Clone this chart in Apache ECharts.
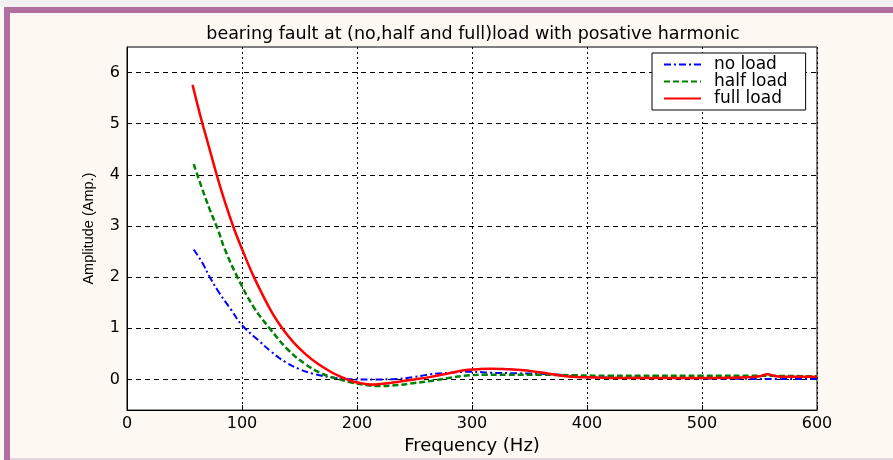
<!DOCTYPE html>
<html>
<head>
<meta charset="utf-8">
<script src="https://cdn.jsdelivr.net/npm/echarts@6/dist/echarts.min.js"></script>
<style>
html,body{margin:0;padding:0;background:#fdf8f1;}
#chart{width:893px;height:460px;}
</style>
</head>
<body>
<div id="chart"></div>
<script>
var titleText = 'bearing fault at (no,half and full)load with posative harmonic';
var xAxisName = 'Frequency (Hz)';
var yAxisName = 'Amplitude (Amp.)';
var seriesNames = ['no load', 'half load', 'full load'];
var yTickValues = [0, 1, 2, 3, 4, 5, 6];

var noLoadX = [58, 65, 72, 80, 90, 100, 115, 125, 137, 150, 162, 175, 190, 200, 215, 235, 250, 264, 281, 299, 316, 340, 370, 390, 410, 450, 500, 550, 600];
var noLoadY = [2.54, 2.3, 2.0, 1.7, 1.38, 1.06, 0.75, 0.55, 0.35, 0.2, 0.11, 0.05, 0.01, 0.0, 0.0, 0.01, 0.05, 0.1, 0.13, 0.15, 0.13, 0.12, 0.1, 0.06, 0.04, 0.03, 0.02, 0.01, 0.01];

var halfLoadX = [58, 65, 72, 79, 85, 96, 110, 124, 140, 155, 168, 177, 185, 195, 208, 220, 235, 250, 264, 280, 293, 310, 330, 360, 390, 420, 460, 500, 550, 600];
var halfLoadY = [4.21, 3.75, 3.32, 2.93, 2.55, 2.0, 1.42, 1.0, 0.58, 0.3, 0.13, 0.05, 0.0, -0.06, -0.11, -0.13, -0.11, -0.07, -0.03, 0.03, 0.07, 0.09, 0.09, 0.09, 0.08, 0.07, 0.07, 0.07, 0.07, 0.06];

var fullLoadX = [57, 65, 70, 78, 85, 93, 100, 110, 125, 135, 145, 155, 165, 177, 185, 195, 205, 212, 220, 235, 250, 264, 280, 293, 305, 316, 330, 345, 355, 365, 375, 386, 400, 420, 450, 480, 510, 540, 550, 557, 563, 570, 600];
var fullLoadY = [5.76, 5.05, 4.65, 4.0, 3.48, 2.95, 2.55, 2.02, 1.35, 1.0, 0.72, 0.5, 0.32, 0.15, 0.06, -0.03, -0.08, -0.1, -0.09, -0.05, 0.0, 0.05, 0.12, 0.18, 0.2, 0.21, 0.2, 0.18, 0.15, 0.12, 0.08, 0.05, 0.04, 0.03, 0.03, 0.03, 0.03, 0.04, 0.06, 0.1, 0.07, 0.05, 0.05];

function zip(xs, ys) { return xs.map(function (x, i) { return [x, ys[i]]; }); }

var chart = echarts.init(document.getElementById('chart'), null, {renderer: 'canvas'});
var hFont = 'DejaVu Sans';
chart.setOption({
  backgroundColor: '#fdf8f1',
  animation: false,
  graphic: [
    {type: 'rect', shape: {x: 0, y: 0, width: 893, height: 7}, style: {fill: '#f2f0f1'}, silent: true, z: -1},
    {type: 'rect', shape: {x: 4, y: 7, width: 889, height: 6}, style: {fill: '#b06f9f'}, silent: true, z: -1},
    {type: 'rect', shape: {x: 4, y: 7, width: 6, height: 453}, style: {fill: '#b06f9f'}, silent: true, z: -1},
    {type: 'rect', shape: {x: 10, y: 458, width: 883, height: 2}, style: {fill: '#e3d6e0'}, silent: true, z: -1}
  ],
  title: {
    text: titleText,
    left: 468,
    top: 20,
    textAlign: 'center',
    textStyle: {fontFamily: hFont, fontSize: 17.5, fontWeight: 'normal', color: '#000'}
  },
  legend: {
    orient: 'vertical',
    left: 652,
    top: 53,
    padding: [3, 18, 3, 11],
    itemGap: 0,
    itemWidth: 37,
    itemHeight: 14,
    backgroundColor: '#ffffff',
    borderColor: '#000',
    borderWidth: 1,
    borderRadius: 0,
    itemStyle: {opacity: 0},
    data: seriesNames,
    textStyle: {fontFamily: hFont, fontSize: 17, color: '#000', lineHeight: 17, padding: [0, 0, 0, 8]}
  },
  grid: {
    left: 127, top: 47, width: 690, height: 364,
    show: true, backgroundColor: '#ffffff', borderColor: '#000', borderWidth: 1
  },
  xAxis: {
    type: 'value',
    min: 0, max: 600, interval: 100,
    name: xAxisName,
    nameLocation: 'middle',
    nameGap: 16,
    nameTextStyle: {fontFamily: hFont, fontSize: 18, color: '#000'},
    axisLine: {show: true, onZero: false, lineStyle: {color: '#000', width: 1}},
    axisTick: {show: true, inside: true, length: 5, lineStyle: {color: '#000'}},
    axisLabel: {fontFamily: hFont, fontSize: 16, color: '#000', margin: 6},
    splitLine: {show: true, lineStyle: {color: '#000', type: [2, 3], width: 1}}
  },
  yAxis: {
    type: 'value',
    min: -0.6, max: 6.5,
    name: yAxisName,
    nameLocation: 'middle',
    nameGap: 31,
    nameRotate: 90,
    nameTextStyle: {fontFamily: 'Liberation Sans', fontSize: 14.5, color: '#000'},
    axisLine: {show: true, lineStyle: {color: '#000', width: 1}},
    axisTick: {show: true, inside: true, length: 5, lineStyle: {color: '#000'}, customValues: yTickValues},
    axisLabel: {fontFamily: hFont, fontSize: 16, color: '#000', margin: 7, customValues: yTickValues},
    splitLine: {show: true, lineStyle: {color: '#000', type: [5, 4], width: 1}}
  },
  series: [
    {
      name: seriesNames[0], type: 'line', data: zip(noLoadX, noLoadY), smooth: 0.4,
      symbol: 'none', lineStyle: {color: '#0000ff', width: 2, type: [7, 3, 2, 3]}, itemStyle: {color: '#0000ff'}, z: 3
    },
    {
      name: seriesNames[1], type: 'line', data: zip(halfLoadX, halfLoadY), smooth: 0.4,
      symbol: 'none', lineStyle: {color: '#008000', width: 2.5, type: [6, 3]}, itemStyle: {color: '#008000'}, z: 4
    },
    {
      name: seriesNames[2], type: 'line', data: zip(fullLoadX, fullLoadY), smooth: 0.4,
      symbol: 'none', lineStyle: {color: '#ff0000', width: 2.5, type: 'solid'}, itemStyle: {color: '#ff0000'}, z: 5
    }
  ]
});
</script>
</body>
</html>
